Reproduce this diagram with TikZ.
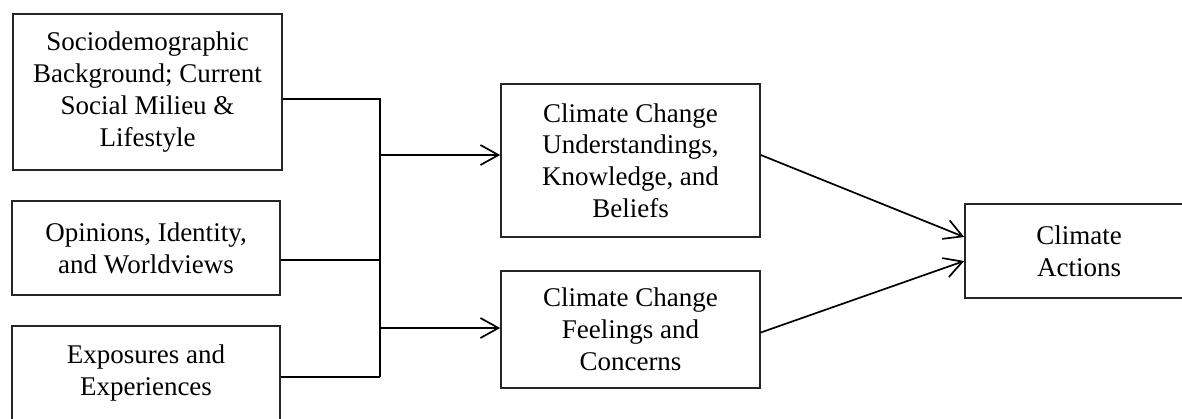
\documentclass[tikz,border=0pt]{standalone}
\usepackage{fontspec}
\setmainfont{Liberation Serif}
\usetikzlibrary{positioning,arrows.meta}

\begin{document}
\begin{tikzpicture}[x=0.5pt,y=-0.5pt,
    box/.style={draw=black!85, line width=0.8pt, align=center, inner sep=2pt,
                font=\fontsize{13.5}{15.9}\selectfont},
    link/.style={line width=0.85pt},
    arr/.style={link, -{Straight Barb[length=9pt,width=10pt]}}]
  \path[use as bounding box] (0,0) rectangle (1182,418);
  \clip (0,0) rectangle (1182,418);
  % left column: background factors
  \node[box, minimum width=134.5pt, minimum height=78pt] (socio) at (147.5,92)
    {Sociodemographic\\Background; Current\\Social Milieu \&\\Lifestyle};
  \node[box, minimum width=134pt, minimum height=47pt] (opin) at (146,248)
    {Opinions, Identity,\\and Worldviews};
  \node[box, minimum width=134pt, minimum height=47pt] (expo) at (146,373)
    {Exposures and\\Experiences};
  % middle column
  \node[box, minimum width=129.5pt, minimum height=76.5pt] (under) at (630.5,160.5)
    {Climate Change\\Understandings,\\Knowledge, and\\Beliefs};
  \node[box, minimum width=129.5pt, minimum height=58.5pt] (feel) at (630.5,329.5)
    {Climate Change\\Feelings and\\Concerns};
  % outcome
  \node[box, minimum width=114pt, minimum height=47pt] (act) at (1079,251)
    {Climate\\Actions};
  % bus
  \coordinate (busN) at (380,99);
  \coordinate (busO) at (380,260);
  \coordinate (busS) at (380,377);
  \coordinate (busU) at (380,155);
  \coordinate (busF) at (380,328);
  \draw[link] (socio.east |- busN) -- (busN) -- (busS);
  \draw[link] (opin.east |- busO) -- (busO);
  \draw[link] (expo.east |- busS) -- (busS);
  \draw[arr] (busU) -- (under.west |- busU);
  \draw[arr] (busF) -- (feel.west |- busF);
  \draw[arr] ([yshift=2.75pt]under.east) -- ([yshift=7pt]act.west);
  \draw[arr] ([yshift=-1.5pt]feel.east) -- ([yshift=-5pt]act.west);
\end{tikzpicture}
\end{document}
